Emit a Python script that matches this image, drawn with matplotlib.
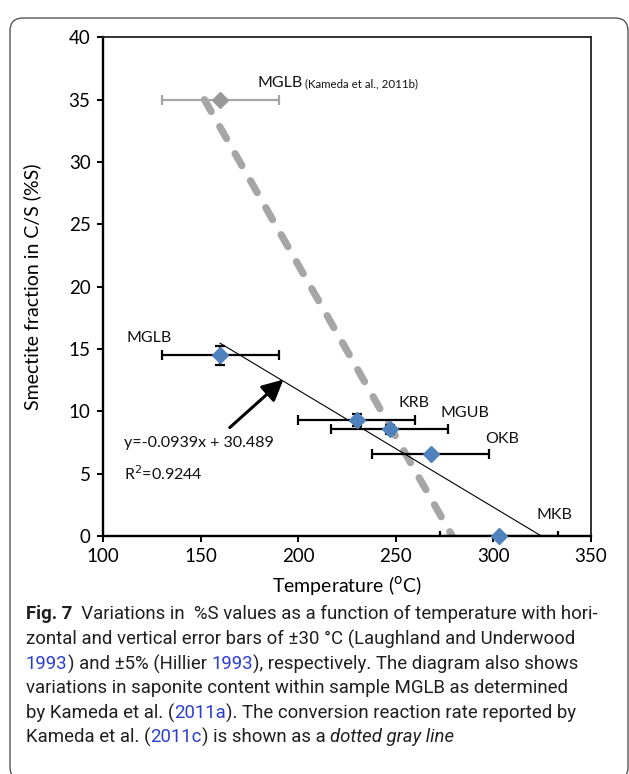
import numpy as np
import matplotlib
matplotlib.use("Agg")
import matplotlib.pyplot as plt
from matplotlib.patches import FancyBboxPatch

# data
samples = ["MGLB", "KRB", "MGUB", "OKB", "MKB"]
temp = [160, 230, 247, 268, 303]
smectite = [14.5, 9.3, 8.55, 6.6, 0.0]
temp_err = [30, 30, 30, 30, 30]
smec_err = [0.75, 0.5, 0.35, 0.0, 0.0]

kameda_temp = [160]
kameda_smec = [35]
kameda_err = [30]

# Kameda et al. (2011c) conversion rate line (dotted gray)
rate_temp = [152, 279]
rate_smec = [35, 0]

# linear fit y = slope*x + intercept
slope, intercept = -0.0939, 30.489
fit_x = [160, 324.7]

label_pos = {"MGLB": (123.5, 15.9), "KRB": (259.5, 10.7), "MGUB": (285.5, 9.85),
             "OKB": (304.5, 7.75), "MKB": (331.5, 1.65)}

plt.rcParams['font.family'] = ['Lato', 'DejaVu Sans']
fig = plt.figure(figsize=(6.29, 7.74), dpi=100)

# rounded frame around figure + caption
frame = FancyBboxPatch((0.10, -0.06), 6.18, 7.62,
                       boxstyle="round,pad=0,rounding_size=0.13",
                       transform=fig.dpi_scale_trans, fill=False,
                       edgecolor='#555555', lw=1.0)
fig.patches.append(frame)

ax = fig.add_axes([103/629, 1-536/774, (590.7-103)/629, (536-37.3)/774])

ax.plot(rate_temp, rate_smec, color='#a6a6a6', lw=5.2, dashes=(1.9, 2.4),
        dash_capstyle='round', solid_capstyle='round', zorder=2)

fy = [slope*x + intercept for x in fit_x]
ax.plot(fit_x, fy, color='k', lw=0.8, zorder=3)

ax.errorbar(kameda_temp, kameda_smec, xerr=kameda_err, fmt='D', color='#999999',
            ms=8, ecolor='#a6a6a6', elinewidth=1.6, capsize=3.5, capthick=1.6, zorder=4)

ax.errorbar(temp, smectite, xerr=temp_err, yerr=smec_err, fmt='none',
            ecolor='k', elinewidth=1.6, capsize=3.5, capthick=1.6, zorder=4)
ax.plot(temp, smectite, 'D', color='#4f81bd', ms=8.5, zorder=5, clip_on=False)

for s in samples:
    x, y = label_pos[s]
    ax.text(x, y, s, ha='center', va='center', fontsize=11.5, color='#111111')

ax.text(179.4, 36.0, "MGLB", ha='left', va='baseline', fontsize=11.5, color='#111111')
ax.text(203.5, 36.0, "(Kameda et al., 2011b)", ha='left', va='baseline',
        fontsize=8.3, color='#111111')

ax.text(111, 7.45, "y=-0.0939x + 30.489", ha='left', va='center', fontsize=11.5,
        color='#111111')
ax.text(111, 5.0, r"R$^{2}$=0.9244", ha='left', va='center', fontsize=11.5,
        color='#111111')

ax.annotate("", xy=(192.5, 12.55), xytext=(165, 8.7),
            arrowprops=dict(arrowstyle='-|>', lw=2.2, color='k', mutation_scale=32,
                            shrinkA=0, shrinkB=0))

ax.set_xlim(100, 350)
ax.set_ylim(0, 40)
ax.set_xticks(np.arange(100, 351, 50))
ax.set_yticks(np.arange(0, 41, 5))
ax.tick_params(direction='out', length=4, width=1.4, labelsize=13.5,
               colors='k', pad=5)
for side in ['left', 'bottom']:
    ax.spines[side].set_linewidth(1.7)
for side in ['top', 'right']:
    ax.spines[side].set_linewidth(1.3)
    ax.spines[side].set_color('#222222')

ax.set_xlabel("Temperature ($^{\\mathrm{o}}$C)", fontsize=14, labelpad=6)
ax.set_ylabel("Smectite fraction in C/S (%S)", fontsize=14, labelpad=20)

# caption, drawn piece by piece
cap_font = ['Roboto', 'DejaVu Sans']
cap_size = 13.4
dark = '#231f20'
blue = '#2d3fd0'
lines = [
    [("Fig. 7", 'bold', dark), ("  Variations in  %S values as a function of temperature with hori-", 'normal', dark)],
    [("zontal and vertical error bars of \u00b130 \u00b0C (Laughland and Underwood", 'normal', dark)],
    [("1993", 'normal', blue), (") and \u00b15% (Hillier ", 'normal', dark), ("1993", 'normal', blue),
     ("), respectively. The diagram also shows", 'normal', dark)],
    [("variations in saponite content within sample MGLB as determined", 'normal', dark)],
    [("by Kameda et al. (", 'normal', dark), ("2011a", 'normal', blue),
     ("). The conversion reaction rate reported by", 'normal', dark)],
    [("Kameda et al. (", 'normal', dark), ("2011c", 'normal', blue), (") is shown as a ", 'normal', dark),
     ("dotted gray line", 'italic', dark)],
]
line_y = [614, 639, 664, 688, 713, 737]

renderer = fig.canvas.get_renderer()


def text_width(s, weight, style):
    t = fig.text(0, 0, s + ".", fontsize=cap_size, family=cap_font, weight=weight, style=style)
    w1 = t.get_window_extent(renderer).width
    t.remove()
    t = fig.text(0, 0, ".", fontsize=cap_size, family=cap_font, weight=weight, style=style)
    w2 = t.get_window_extent(renderer).width
    t.remove()
    return w1 - w2


for parts, yy in zip(lines, line_y):
    x = 26.0
    for s, kind, col in parts:
        weight = 'bold' if kind == 'bold' else 'normal'
        style = 'italic' if kind == 'italic' else 'normal'
        fig.text(x/629, 1 - yy/774, s, fontsize=cap_size, family=cap_font, weight=weight,
                 style=style, color=col, ha='left', va='center')
        x += text_width(s, weight, style)

fig.savefig("out.png", dpi=100)
